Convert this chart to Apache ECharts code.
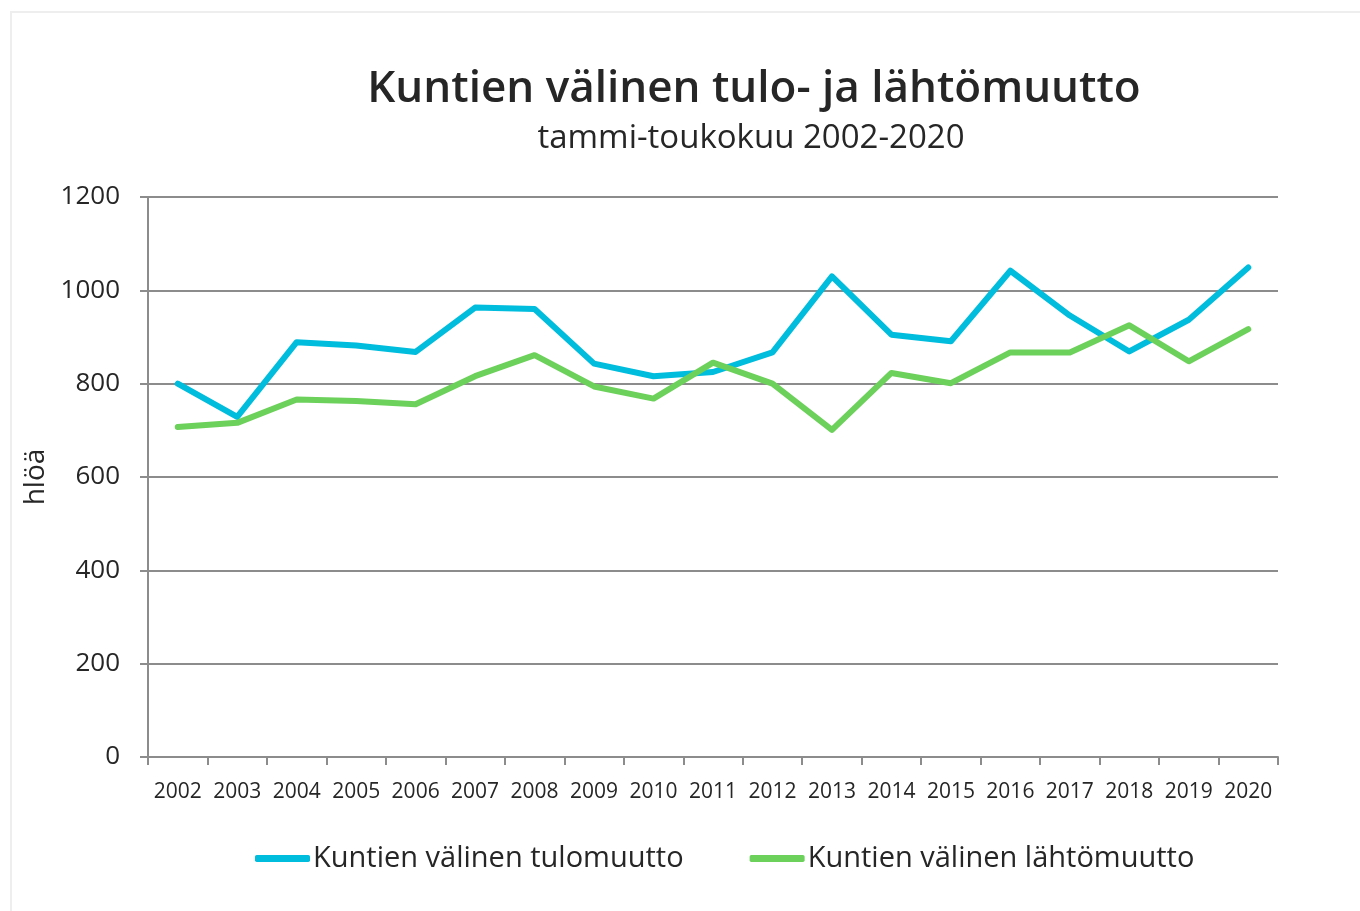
<!DOCTYPE html>
<html>
<head>
    <meta charset="UTF-8">
    <title>Kuntien välinen tulo- ja lähtömuutto</title>
    <script src="https://cdn.jsdelivr.net/npm/echarts@6/dist/echarts.min.js"></script>
</head>
<style type="text/css">
    body {
        margin: 0;
        padding: 0;
        background: #ffffff;
    }
</style>
<body>
<div id="app" style="width: 1360px;height: 911px;"></div>
<script type="text/javascript">
    // vuodet ja arvot (luettu kuvasta)
    var years = ['2002', '2003', '2004', '2005', '2006', '2007', '2008', '2009', '2010', '2011',
        '2012', '2013', '2014', '2015', '2016', '2017', '2018', '2019', '2020'];
    var tulomuutto = [800, 729, 889, 882, 868, 963, 960, 843, 816, 825, 867, 1030, 905, 891, 1042, 946, 869, 937, 1049];
    var lahtomuutto = [707, 716, 766, 763, 756, 816, 861, 794, 768, 845, 800, 701, 823, 801, 867, 867, 925, 848, 917];
    var seriesNames = ['Kuntien välinen tulomuutto', 'Kuntien välinen lähtömuutto'];
    var colors = ['#00bcdd', '#6cd15a'];

    var font = '"Open Sans", "Noto Sans", sans-serif';
    var gridColor = '#8c8c8c';
    var textColor = '#262626';

    var myChart = echarts.init(document.getElementById('app'), null, {renderer: 'canvas'});

    var option = {
        backgroundColor: '#ffffff',
        animation: false,
        textStyle: {fontFamily: font},
        graphic: [
            {
                // kevyt kehys
                type: 'rect',
                silent: true,
                shape: {x: 11, y: 12, width: 1420, height: 960},
                style: {fill: 'none', stroke: '#eeeeee', lineWidth: 2}
            }
        ],
        title: [
            {
                text: 'Kuntien välinen tulo- ja lähtömuutto',
                left: 749,
                top: 62,
                textAlign: 'center',
                textStyle: {fontFamily: font, fontSize: 44, fontWeight: 600, color: textColor}
            },
            {
                text: 'tammi-toukokuu 2002-2020',
                left: 746,
                top: 117,
                textAlign: 'center',
                textStyle: {fontFamily: font, fontSize: 33, fontWeight: 'normal', color: textColor}
            }
        ],
        legend: {
            data: seriesNames,
            bottom: 33,
            left: 250,
            icon: 'roundRect',
            itemWidth: 55,
            itemHeight: 7,
            itemGap: 66,
            textStyle: {fontFamily: font, fontSize: 29, color: textColor, padding: [0, 0, 0, -2]}
        },
        grid: {
            left: 148,
            right: 82,
            top: 197,
            bottom: 154,
            containLabel: false
        },
        xAxis: {
            type: 'category',
            data: years,
            boundaryGap: true,
            axisLine: {lineStyle: {color: gridColor, width: 2}},
            axisTick: {show: true, length: 8, lineStyle: {color: gridColor, width: 2}},
            axisLabel: {color: textColor, fontSize: 21, margin: 25, fontFamily: font, interval: 0}
        },
        yAxis: {
            type: 'value',
            min: 0,
            max: 1200,
            interval: 200,
            name: 'hlöä',
            nameLocation: 'middle',
            nameGap: 97,
            nameRotate: 90,
            nameTextStyle: {fontSize: 28, color: textColor, fontFamily: font},
            axisLine: {show: true, lineStyle: {color: gridColor, width: 2}},
            axisTick: {show: true, length: 8, lineStyle: {color: gridColor, width: 2}},
            axisLabel: {
                color: textColor, fontSize: 26, margin: 28, fontFamily: font,
                formatter: function (v) {
                    return String(v);
                }
            },
            splitLine: {lineStyle: {color: gridColor, width: 2}}
        },
        series: [
            {
                name: seriesNames[0],
                type: 'line',
                data: tulomuutto,
                color: colors[0],
                symbol: 'none',
                lineStyle: {width: 6, color: colors[0], cap: 'round', join: 'round'}
            },
            {
                name: seriesNames[1],
                type: 'line',
                data: lahtomuutto,
                color: colors[1],
                symbol: 'none',
                lineStyle: {width: 6, color: colors[1], cap: 'round', join: 'round'}
            }
        ]
    };

    myChart.setOption(option);
</script>
</body>
</html>
